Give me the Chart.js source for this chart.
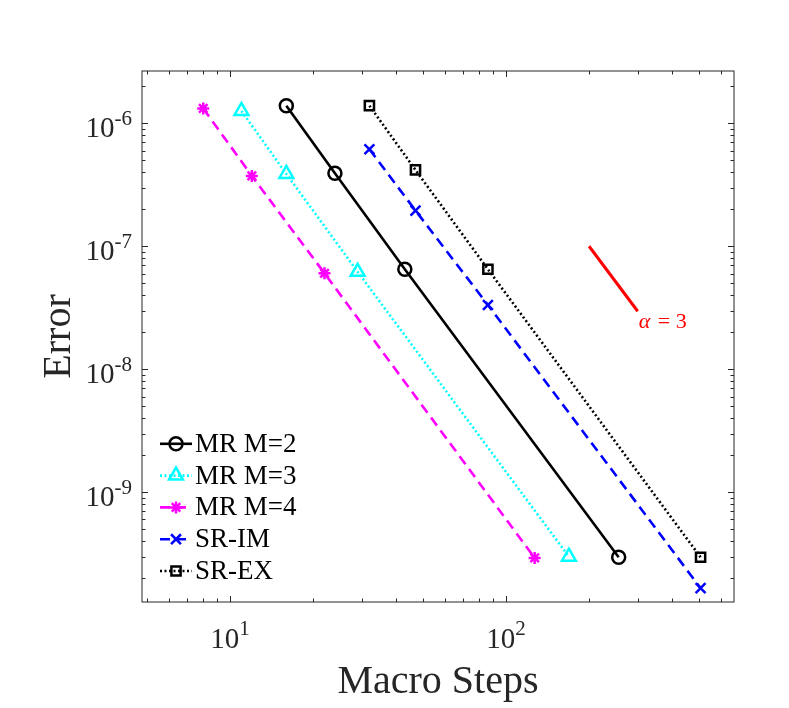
<!DOCTYPE html>
<html lang="en">
<head>
<meta charset="UTF-8">
<title>Error vs Macro Steps</title>
<script src="https://cdn.jsdelivr.net/npm/chart.js"></script>
<style>
  body { margin: 0; background: #fff; }
</style>
</head>
<body>
<canvas id="errChart" width="789" height="708"></canvas>

<script>
    // values
    const stepsM2 = [16, 24, 43, 256];
    const errM2 = [1.39e-6, 3.92e-7, 6.5e-8, 2.96e-10];
    const stepsM3 = [11, 16, 29, 169];
    const errM3 = [1.26e-6, 3.87e-7, 6.2e-8, 2.99e-10];
    const stepsM4 = [8, 12, 22, 127];
    const errM4 = [1.32e-6, 3.73e-7, 6.03e-8, 2.92e-10];
    const stepsIM = [32, 47, 86, 507];
    const errIM = [6.15e-7, 1.95e-7, 3.33e-8, 1.66e-10];
    const stepsEX = [32, 47, 86, 507];
    const errEX = [1.39e-6, 4.17e-7, 6.5e-8, 2.96e-10];

    // reference slope segment
    const slopeSteps = [200, 300];
    const slopeErr = [1.0e-7, 2.96e-8];
    const slopeText = '= 3';

    const xDecades = [10, 100];
    const xDecadeExp = ['1', '2'];
    const yDecades = [1e-9, 1e-8, 1e-7, 1e-6];
    const yDecadeExp = ['-9', '-8', '-7', '-6'];

    const serif = "'Liberation Serif', 'Times New Roman', serif";
    const ink = '#262626';

    function pts(xs, ys) {
        return xs.map((x, i) => ({ x: x, y: ys[i] }));
    }

    function line(label, xs, ys, color, dash, marker, r) {
        return {
            label: label,
            data: pts(xs, ys),
            borderColor: color,
            borderWidth: 2.6,
            borderDash: dash,
            borderCapStyle: 'butt',
            pointStyle: marker,
            pointRadius: r,
            pointBorderWidth: 2.5,
            pointBorderColor: color,
            pointBackgroundColor: 'rgba(0,0,0,0)',
            tension: 0,
            fill: false
        };
    }

    const datasets = [
        line('MR M=2', stepsM2, errM2, '#000000', [], 'circle', 6.5),
        line('MR M=3', stepsM3, errM3, '#00ffff', [2, 2.5], 'triangle', 8),
        line('MR M=4', stepsM4, errM4, '#ff00ff', [10, 6], 'star', 6),
        line('SR-IM', stepsIM, errIM, '#0000ff', [10, 6], 'crossRot', 7),
        line('SR-EX', stepsEX, errEX, '#000000', [2, 2.5], 'rect', 6.5),
        {
            label: 'slope',
            data: pts(slopeSteps, slopeErr),
            borderColor: '#ff0000',
            borderWidth: 3,
            pointRadius: 0,
            fill: false
        }
    ];

    function logTicks(min, max) {
        const out = [];
        for (let k = Math.floor(Math.log10(min)); k <= Math.ceil(Math.log10(max)); k++) {
            for (let m = 1; m <= 9; m++) {
                const v = m * Math.pow(10, k);
                if (v >= min && v <= max) out.push({ v: v, major: m === 1 });
            }
        }
        return out;
    }

    // box with inward ticks on all four sides
    const frame = {
        id: 'frame',
        afterDatasetsDraw(chart) {
            const { ctx, chartArea: a, scales: { x, y } } = chart;
            ctx.save();
            ctx.strokeStyle = ink;
            ctx.lineWidth = 1;
            ctx.strokeRect(a.left, a.top, a.right - a.left, a.bottom - a.top);
            ctx.beginPath();
            logTicks(x.min, x.max).forEach(t => {
                const px = Math.round(x.getPixelForValue(t.v)) + 0.5;
                const len = t.major ? 6 : 3.5;
                ctx.moveTo(px, a.bottom); ctx.lineTo(px, a.bottom - len);
                ctx.moveTo(px, a.top); ctx.lineTo(px, a.top + len);
            });
            logTicks(y.min, y.max).forEach(t => {
                const py = Math.round(y.getPixelForValue(t.v)) + 0.5;
                const len = t.major ? 6 : 3.5;
                ctx.moveTo(a.left, py); ctx.lineTo(a.left + len, py);
                ctx.moveTo(a.right, py); ctx.lineTo(a.right - len, py);
            });
            ctx.stroke();
            ctx.restore();
        },
        afterDraw(chart) {
            const { ctx, chartArea: a, scales: { x, y } } = chart;
            ctx.save();
            ctx.fillStyle = ink;
            ctx.textBaseline = 'alphabetic';
            const big = '29px ' + serif, small = '21px ' + serif;

            xDecades.forEach((v, i) => {
                const px = x.getPixelForValue(v);
                ctx.font = big;
                const w1 = ctx.measureText('10').width;
                ctx.font = small;
                const w2 = ctx.measureText(xDecadeExp[i]).width;
                const x0 = px - (w1 + w2) / 2;
                ctx.font = big;
                ctx.fillText('10', x0, a.bottom + 46);
                ctx.font = small;
                ctx.fillText(xDecadeExp[i], x0 + w1, a.bottom + 33);
            });

            yDecades.forEach((v, i) => {
                const py = y.getPixelForValue(v);
                ctx.font = small;
                const w2 = ctx.measureText(yDecadeExp[i]).width;
                ctx.font = big;
                const w1 = ctx.measureText('10').width;
                const x1 = a.left - 10;
                ctx.fillText('10', x1 - w2 - w1, py + 14);
                ctx.font = small;
                ctx.fillText(yDecadeExp[i], x1 - w2, py + 2);
            });

            // legend, lower left inside the axes
            const drawPoint = Chart.helpers && Chart.helpers.drawPoint;
            const shown = chart.data.datasets.filter(d => d.label !== 'slope');
            const rowH = 31.8;
            shown.forEach((d, i) => {
                const cy = a.bottom - 31 - (shown.length - 1 - i) * rowH;
                const lx = a.left + 18;
                ctx.strokeStyle = d.borderColor;
                ctx.lineWidth = d.borderWidth;
                ctx.setLineDash(d.borderDash);
                ctx.beginPath();
                ctx.moveTo(lx, cy);
                ctx.lineTo(lx + 32, cy);
                ctx.stroke();
                ctx.setLineDash([]);
                ctx.fillStyle = 'rgba(0,0,0,0)';
                ctx.lineWidth = d.pointBorderWidth;
                if (drawPoint) {
                    drawPoint(ctx, { pointStyle: d.pointStyle, radius: d.pointRadius, rotation: 0, borderWidth: d.pointBorderWidth }, lx + 16, cy);
                }
                ctx.fillStyle = '#000';
                ctx.font = '27px ' + serif;
                ctx.textBaseline = 'middle';
                ctx.fillText(d.label, lx + 35, cy + 1);
            });

            // slope annotation
            const ex = x.getPixelForValue(slopeSteps[1]);
            const ey = y.getPixelForValue(slopeErr[1]);
            ctx.fillStyle = '#ff0000';
            ctx.textBaseline = 'alphabetic';
            ctx.font = 'italic 22px ' + serif;
            ctx.fillText('\u03b1', ex + 1, ey + 17);
            const wa = ctx.measureText('\u03b1').width;
            ctx.font = '22px ' + serif;
            ctx.fillText(' ' + slopeText, ex + 3 + wa, ey + 17);
            ctx.restore();
        }
    };

    new Chart(document.getElementById('errChart').getContext('2d'), {
        type: 'line',
        data: { datasets: datasets },
        options: {
            responsive: false,
            animation: false,
            layout: { padding: { left: 0, right: 55, top: 71, bottom: 0 } },
            plugins: { legend: { display: false }, tooltip: { enabled: false } },
            scales: {
                x: {
                    type: 'logarithmic',
                    min: 4.8,
                    max: 670,
                    afterFit(s) { s.height = 106; },
                    ticks: { display: false },
                    grid: { display: false },
                    border: { display: false },
                    title: {
                        display: true,
                        text: 'Macro Steps',
                        color: ink,
                        font: { family: serif, size: 40 },
                        padding: { top: 0, bottom: 2 }
                    }
                },
                y: {
                    type: 'logarithmic',
                    min: 1.28e-10,
                    max: 2.66e-6,
                    afterFit(s) { s.width = 142; },
                    ticks: { display: false },
                    grid: { display: false },
                    border: { display: false },
                    title: {
                        display: true,
                        text: 'Error',
                        color: ink,
                        font: { family: serif, size: 40 },
                        padding: { top: 35, bottom: 0 }
                    }
                }
            }
        },
        plugins: [frame]
    });
</script>
</body>
</html>
